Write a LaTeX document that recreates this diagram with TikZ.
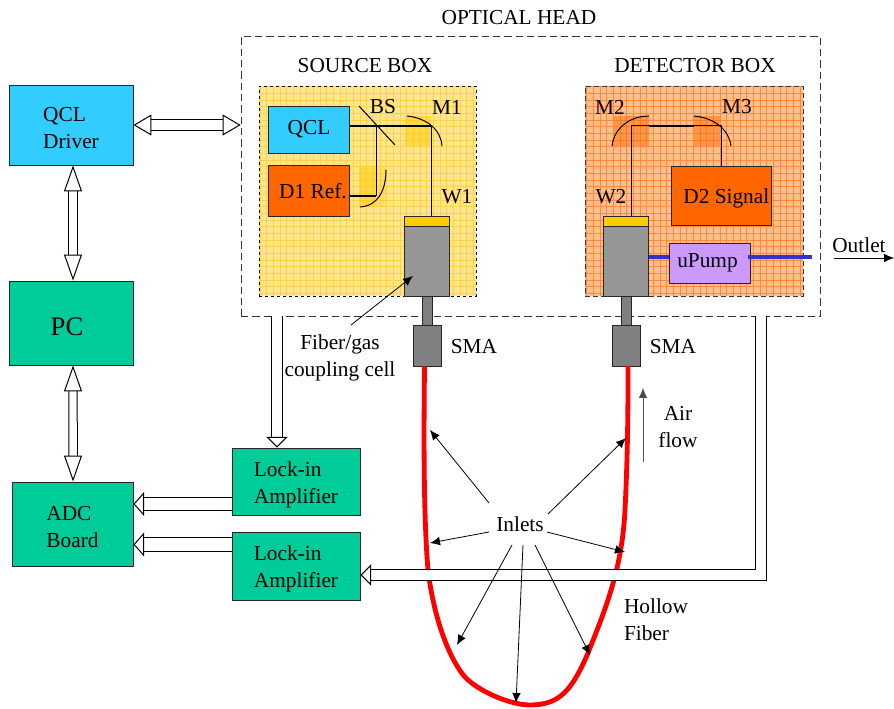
\documentclass[tikz,border=0pt]{standalone}
\usepackage{fontspec}
\setmainfont{Liberation Serif}
\usetikzlibrary{arrows.meta}
\def\px{0.75pt}
\newcommand\dropline{\rule{0pt}{15.5pt}}
\definecolor{qclblue}{HTML}{33CCFF}
\definecolor{boardgreen}{HTML}{00CC99}
\definecolor{diodeorange}{HTML}{FF6600}
\definecolor{cellgray}{HTML}{969696}
\definecolor{stemgray}{HTML}{808080}
\definecolor{windowyellow}{HTML}{FFCC00}
\definecolor{srcfill}{HTML}{FFE68C}
\definecolor{srcgrid}{HTML}{FFD24D}
\definecolor{detfill}{HTML}{FFBF8C}
\definecolor{detgrid}{HTML}{FF8A3D}
\definecolor{pumpviolet}{HTML}{CC99FF}
\definecolor{tubeblue}{HTML}{3333CC}
\tikzset{
  txt/.style={font=\fontsize{16}{20.25}\selectfont,align=left,inner sep=0pt},
  box/.style={draw=black!85,line width=0.7pt,txt,align=left},
  beam/.style={line width=0.75pt},
  thickbeam/.style={line width=1.5pt},
  mirror/.style={line width=0.75pt},
  pointer/.style={line width=0.6pt,-{Latex[length=7.5pt,width=6.5pt]}},
  fiber/.style={red,line width=3.6pt},
  tube/.style={tubeblue,line width=3.6pt},
  busv/.style={double,double distance=5.6pt,line width=0.75pt,
    {Triangle[length=19.5pt,width=13.5pt,fill=white]}-{Triangle[length=19.5pt,width=13.5pt,fill=white]}},
  bush/.style={double,double distance=7pt,line width=0.75pt,
    {Triangle[length=13.5pt,width=15.75pt,fill=white]}-{Triangle[length=13.5pt,width=15.75pt,fill=white]}},
  bus/.style={double,double distance=7.5pt,line width=0.75pt,
    -{Triangle[length=8pt,width=16pt,fill=white]}}
}
\begin{document}
\begin{tikzpicture}[x=0.75pt,y=-0.75pt]
  \useasboundingbox (0,0) rectangle (894,709);
  % optical head
  \node[draw=black!80,line width=0.6pt,dash pattern=on 5.5pt off 3pt,minimum width=579*\px,minimum height=280*\px,inner sep=0pt] (head) at (530.5,176) {};
  \node[txt] (headlabel) at (519,18) {OPTICAL HEAD};
  % source box
  \node[fill=srcfill,minimum width=217*\px,minimum height=210*\px,inner sep=0pt] (source) at (367.5,191) {};
  \draw[srcgrid,line width=0.3pt,step=5pt] (259,86) grid (476,296);
  \node[draw=black,line width=0.6pt,dash pattern=on 2.5pt off 2pt,minimum width=217*\px,minimum height=210*\px,inner sep=0pt] at (367.5,191) {};
  \node[txt] (sourcelabel) at (365,66) {SOURCE BOX};
  % detector box
  \node[fill=detfill,minimum width=218*\px,minimum height=210*\px,inner sep=0pt] (detector) at (694,191) {};
  \draw[detgrid,line width=0.3pt,step=5pt] (585,86) grid (803,296);
  \node[draw=black!80,line width=0.6pt,dash pattern=on 4pt off 2pt,minimum width=218*\px,minimum height=210*\px,inner sep=0pt] at (694,191) {};
  \node[txt] (detectorlabel) at (695,66) {DETECTOR BOX};
  % mirror shades
  \fill[windowyellow,opacity=0.5] (405,116) rectangle (431,146);
  \fill[windowyellow,opacity=0.5] (359,166) rectangle (376,207);
  \fill[windowyellow,opacity=0.25] (376,166) rectangle (386,207);
  \fill[diodeorange,opacity=0.45] (614,116) rectangle (649,146);
  \fill[diodeorange,opacity=0.45] (694,116) rectangle (720,146);
  % source parts
  \node[box,fill=qclblue,minimum width=81*\px,minimum height=47*\px] (qcl) at (309,129.5) {QCL};
  \node[box,fill=diodeorange,minimum width=81*\px,minimum height=51*\px] (dref) at (309,191) {\hspace*{6pt}D1 Ref.};
  \node[box,fill=windowyellow,minimum width=45*\px,minimum height=10*\px] (winone) at (427,221) {};
  \node[box,fill=cellgray,minimum width=45*\px,minimum height=70*\px] (cellone) at (427,261) {};
  \node[box,fill=stemgray,minimum width=10*\px,minimum height=29*\px] (stemone) at (427,310.5) {};
  \node[box,fill=stemgray,minimum width=28*\px,minimum height=41*\px] (smaone) at (427,345.5) {};
  % detector parts
  \node[box,fill=diodeorange,minimum width=100*\px,minimum height=59*\px] (dsignal) at (721,195.5) {\hspace*{8pt}\dropline D2 Signal};
  \node[box,fill=windowyellow,minimum width=45*\px,minimum height=10*\px] (wintwo) at (626,221) {};
  \node[box,fill=cellgray,minimum width=45*\px,minimum height=70*\px] (celltwo) at (626,261) {};
  \node[box,fill=stemgray,minimum width=10*\px,minimum height=29*\px] (stemtwo) at (626,310.5) {};
  \node[box,fill=stemgray,minimum width=28*\px,minimum height=41*\px] (smatwo) at (626,345.5) {};
  \node[box,fill=pumpviolet,minimum width=81*\px,minimum height=40*\px] (pump) at (709.5,263) {\hspace*{-3pt}\raisebox{3pt}{uPump}};
  % beam points
  \coordinate (bs) at (376,126);
  \coordinate (mone) at (431,126);
  \coordinate (mref) at (376,196);
  \coordinate (mtwo) at (631,126);
  \coordinate (mthree) at (721,126);
  \coordinate (outleta) at (834,258);
  \coordinate (outletb) at (894,258);
  \draw[thickbeam] (qcl.east |- bs) -- (mone);
  \draw[beam] (bs) -- (mref);
  \draw[thickbeam] (dref.east |- mref) -- (mref);
  \draw[beam] (mone) -- (mone |- winone.north);
  \draw[beam] (bs) ++(-17,-20) -- ++(36,39);
  \draw[beam] (mtwo |- wintwo.north) -- (mtwo) -- (mthree) -- (mthree |- dsignal.north);
  \draw[thickbeam] (649,126) -- (694,126);
  % mirrors
  \draw[mirror] (407,116) .. controls (427,118) and (441,130) .. (442,146);
  \draw[mirror] (360,207) .. controls (378,206) and (386,190) .. (386,170);
  \draw[mirror] (612,146) .. controls (614,128) and (630,116) .. (649,116);
  \draw[mirror] (694,116) .. controls (715,118) and (729,130) .. (731,146);
  % pump tubes
  \draw[tube] (celltwo.east |- outleta) ++(0,-1) -- (pump.west |- 0,257);
  \draw[tube] (748,257) -- (812,257);
  \draw[pointer] (outleta) -- (outletb);
  % labels in the boxes
  \node[txt] (bslabel) at (383,107) {BS};
  \node[txt] (monelabel) at (447,107) {M1};
  \node[txt] (mtwolabel) at (610,107) {M2};
  \node[txt] (mthreelabel) at (737,107) {M3};
  \node[txt] (wonelabel) at (457,197) {W1};
  \node[txt] (wtwolabel) at (611,197) {W2};
  \node[txt] (outletlabel) at (859,245) {Outlet};
  \node[txt] (smaonelabel) at (474,347) {SMA};
  \node[txt] (smatwolabel) at (673,347) {SMA};
  \node[txt,align=center] (celllabel) at (340,358) {Fiber/gas\\coupling cell};
  \coordinate (celltail) at (351,325);
  \draw[pointer] (celltail) -- (413,276);
  % left column
  \node[box,fill=qclblue,minimum width=124*\px,minimum height=80*\px] (driver) at (71,125) {\dropline QCL\\Driver};
  \node[box,fill=boardgreen,minimum width=124*\px,minimum height=84*\px,font=\fontsize{20}{24}\selectfont] (pc) at (71,323) {\hspace*{-6pt}\rule{0pt}{19.5pt}PC};
  \node[box,fill=boardgreen,minimum width=121*\px,minimum height=84*\px] (adc) at (72.5,524) {\dropline ADC\\Board};
  \node[box,fill=boardgreen,minimum width=128*\px,minimum height=67*\px] (lockone) at (296,481.5) {\dropline Lock-in\\Amplifier};
  \node[box,fill=boardgreen,minimum width=128*\px,minimum height=68*\px] (locktwo) at (296,566) {\dropline Lock-in\\Amplifier};
  \draw[bush] (driver.east) -- (head.west |- driver.east);
  \draw[busv] ([xshift=1.5pt]driver.south) -- ([xshift=1.5pt]pc.north);
  \draw[busv] ([xshift=1.5pt]pc.south) -- ([xshift=0.4pt]adc.north);
  % lock-in connections
  \coordinate (headouta) at (277,316);
  \coordinate (headoutb) at (761,316);
  \draw[bus] (headouta) -- (headouta |- lockone.north);
  \draw[bus,double distance=9.5pt,-{Triangle[length=8pt,width=18pt,fill=white]}] (lockone.west |- 0,504) -- (adc.east |- 0,504);
  \draw[bus,double distance=9.5pt,-{Triangle[length=8pt,width=18pt,fill=white]}] (locktwo.west |- 0,544.5) -- (adc.east |- 0,544.5);
  % fiber
  \draw[fiber] (smaone.south) ++(-2.5,0) .. controls (424,420) and (423,510) .. (428,570)
    .. controls (434,620) and (450,660) .. (465,677)
    .. controls (478,691) and (510,705) .. (530,705)
    .. controls (560,705) and (572,690) .. (588,653)
    .. controls (605,610) and (622,570) .. (625,510)
    .. controls (628,450) and (628,400) .. (628,366);
  \draw[bus] (headoutb) |- (locktwo.east |- 0,575);
  % inlets
  \node[txt] (inlets) at (520,524) {Inlets};
  \coordinate (tipa) at (430,430);
  \coordinate (tipb) at (626,438);
  \coordinate (tipc) at (430,543);
  \coordinate (tipd) at (625,552);
  \coordinate (tipe) at (457,645);
  \coordinate (tipf) at (516,703);
  \coordinate (tipg) at (590,655);
  \foreach \dx/\dy/\tip in {-31/-21/tipa,28/-10/tipb,-31/8/tipc,27/8/tipd,-8/21/tipe,3/21/tipf,15/21/tipg}
    \draw[pointer] ([shift={(\dx,\dy)}]inlets.center) -- (\tip);
  % air flow
  \coordinate (flowa) at (643,462);
  \coordinate (flowb) at (643,388);
  \draw[pointer,black!70] (flowa) -- (flowb);
  \node[txt,align=center] (flowlabel) at (678,427.5) {Air\\flow};
  \node[txt] (hollowlabel) at (656,620) {Hollow\\Fiber};
\end{tikzpicture}
\end{document}
